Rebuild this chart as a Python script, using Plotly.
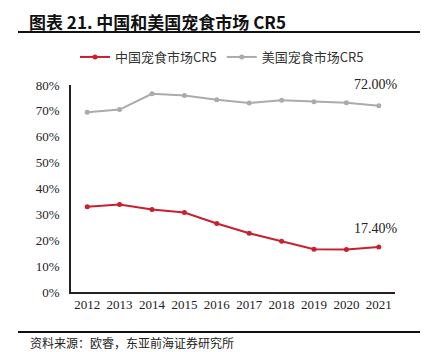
import plotly.graph_objects as go

years = ["2012", "2013", "2014", "2015", "2016", "2017", "2018", "2019", "2020", "2021"]
china_cr5 = [32.9, 33.8, 31.9, 30.7, 26.5, 22.7, 19.6, 16.5, 16.4, 17.4]
us_cr5 = [69.5, 70.5, 76.6, 75.9, 74.3, 73.0, 74.1, 73.5, 73.1, 72.0]
y_ticks = [0, 10, 20, 30, 40, 50, 60, 70, 80]
y_tick_text = [f"{v}%" for v in y_ticks]

RED = "#C8202E"
GRAY = "#ABABAB"
W, H = 424, 352
L, R, T, B = 71, 29, 85, 60
PW = W - L - R
PH = H - T - B

def px(x):
    return (x - L) / PW

def py(y):
    return (H - B - y) / PH

fig = go.Figure()
fig.add_trace(go.Scatter(x=years, y=china_cr5, mode="lines+markers", name="中国宠食市场CR5",
                         line=dict(color=RED, width=2), marker=dict(size=5, color=RED)))
fig.add_trace(go.Scatter(x=years, y=us_cr5, mode="lines+markers", name="美国宠食市场CR5",
                         line=dict(color=GRAY, width=2), marker=dict(size=5, color=GRAY)))

last = len(years) - 1
fig.add_annotation(x=last, y=us_cr5[-1], text=f"{us_cr5[-1]:.2f}%", showarrow=False,
                   yshift=21, xshift=-3, font=dict(family="Liberation Serif", size=14, color="#222"))
fig.add_annotation(x=last, y=china_cr5[-1], text=f"{china_cr5[-1]:.2f}%", showarrow=False,
                   yshift=18, xshift=-3, font=dict(family="Liberation Serif", size=14, color="#222"))

# title
fig.add_annotation(xref="paper", yref="paper", x=px(27), y=py(22), xanchor="left", yanchor="middle",
                   text="<b>图表 21. 中国和美国宠食市场 CR5</b>", showarrow=False,
                   font=dict(family="Noto Sans CJK SC", size=17, color="#111"))
fig.add_shape(type="line", xref="paper", yref="paper", x0=px(18), x1=px(420), y0=py(32), y1=py(32),
              line=dict(color="#111", width=2))
fig.add_shape(type="line", xref="paper", yref="paper", x0=px(18), x1=px(420), y0=py(332), y1=py(332),
              line=dict(color="#111", width=2))
fig.add_annotation(xref="paper", yref="paper", x=px(28), y=py(342), xanchor="left", yanchor="middle",
                   text="资料来源：欧睿，东亚前海证券研究所", showarrow=False,
                   font=dict(family="Noto Sans CJK SC", size=12, color="#222"))

fig.update_layout(
    width=W, height=H,
    margin=dict(l=L, r=R, t=T, b=B, pad=0),
    paper_bgcolor="white", plot_bgcolor="white",
    showlegend=True,
    legend=dict(orientation="h", x=px(75), y=py(57), xanchor="left", yanchor="middle",
                font=dict(family="Noto Sans CJK SC", size=13, color="#333"),
                itemwidth=30, tracegroupgap=0, bgcolor="rgba(0,0,0,0)"),
    font=dict(family="Liberation Serif", size=13, color="#222"),
)
fig.update_xaxes(type="category", range=[-0.5, 9.5], showline=True, linecolor="#222", linewidth=1.5,
                 ticks="", showgrid=False, zeroline=False, tickfont=dict(family="Liberation Serif", size=13))
fig.update_yaxes(range=[0, 80], tickvals=y_ticks, ticktext=y_tick_text, showline=True, linecolor="#222",
                 linewidth=1.5, ticks="", showgrid=False, zeroline=False,
                 tickfont=dict(family="Liberation Serif", size=13), ticklabelstandoff=7)

fig.write_html("out.html")
